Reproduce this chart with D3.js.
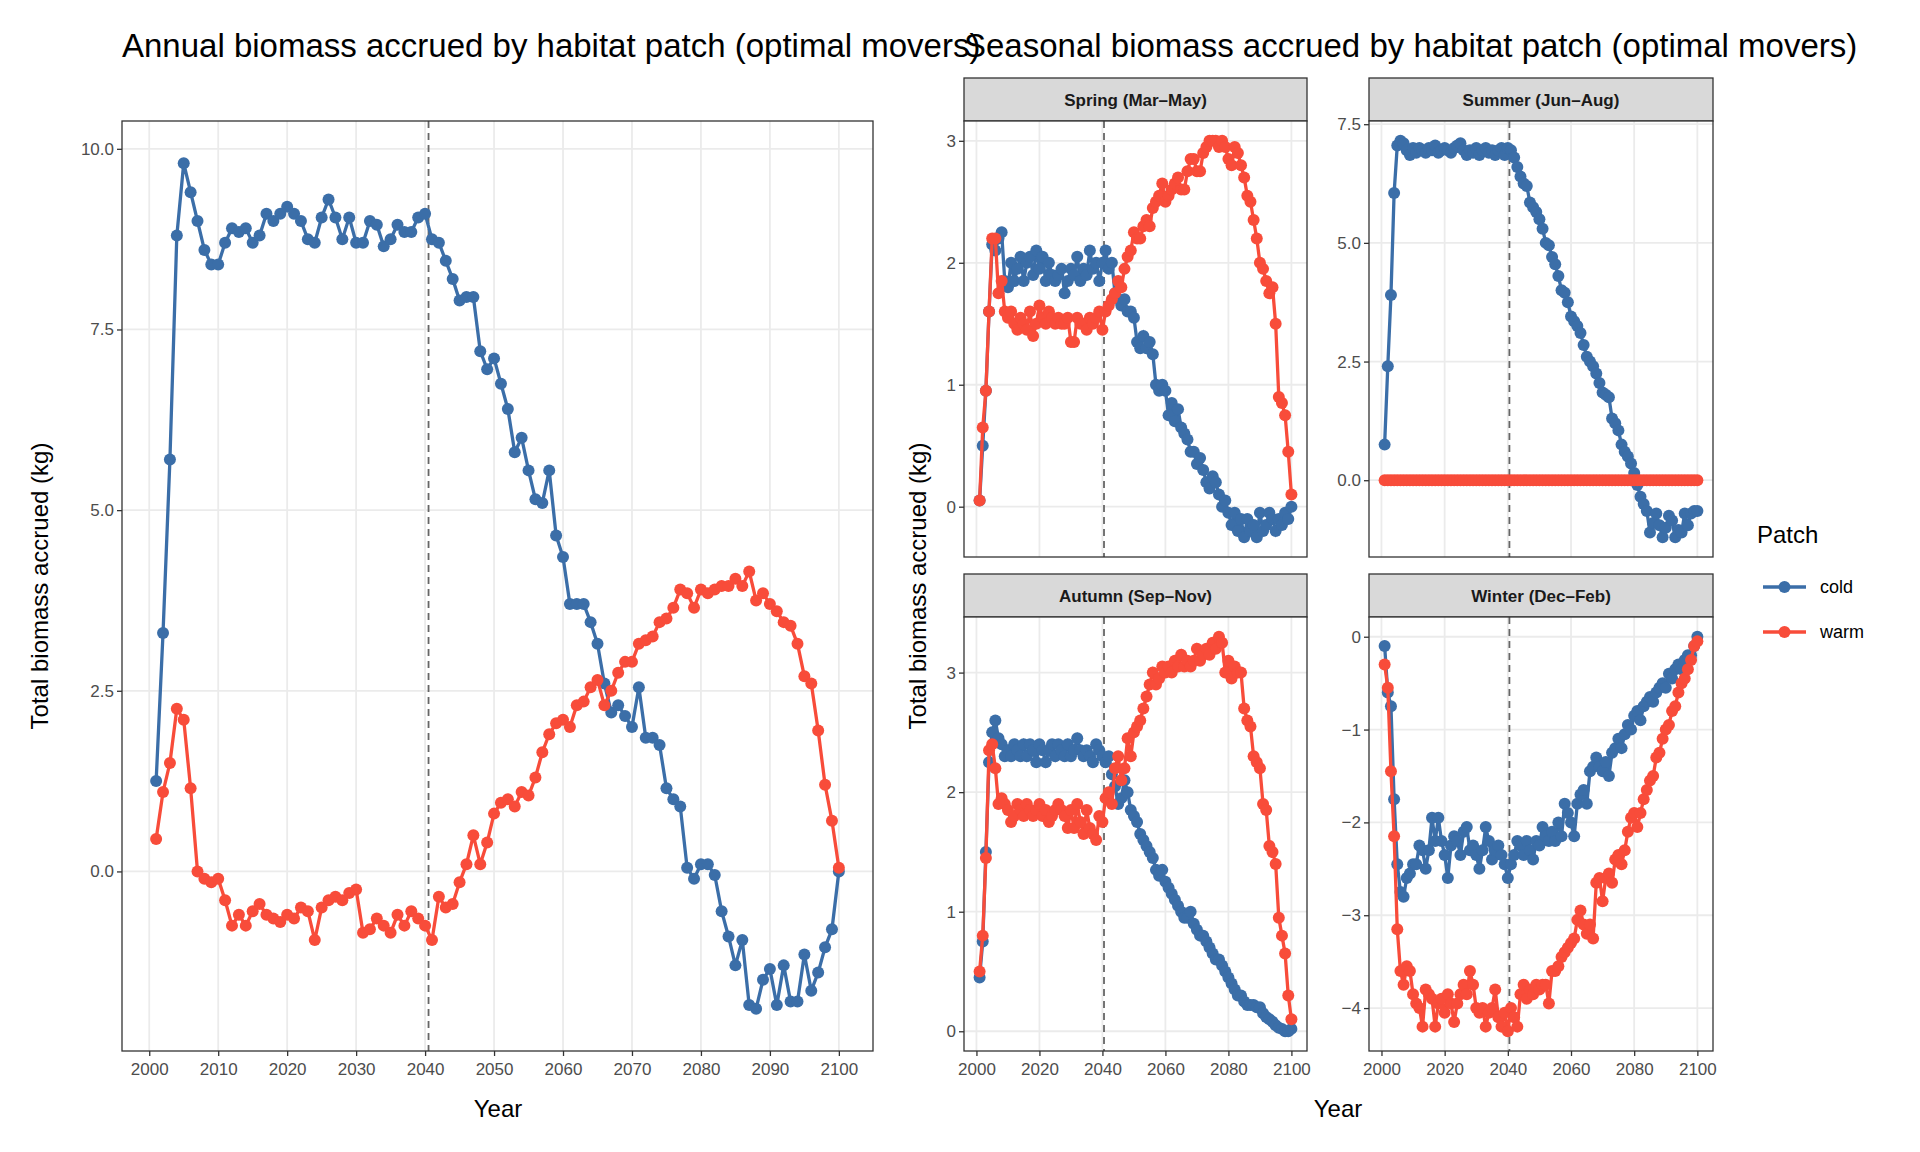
<!DOCTYPE html>
<html><head><meta charset="utf-8">
<script src="https://cdn.jsdelivr.net/npm/d3@7"></script>
<style>body{margin:0;background:#fff}text{font-family:"Liberation Sans",Arial,sans-serif}</style>
</head><body><svg id="c" width="1920" height="1152"></svg>
<script>
const years = d3.range(2001, 2101);
const annualCold = [1.25,3.3,5.7,8.8,9.8,9.4,9.0,8.6,8.4,8.4,8.7,8.9,8.85,8.9,8.7,8.8,9.1,9.0,9.1,9.2,9.1,9.0,8.75,8.7,9.05,9.3,9.05,8.75,9.05,8.7,8.7,9.0,8.95,8.65,8.75,8.95,8.85,8.85,9.05,9.1,8.75,8.7,8.45,8.2,7.9,7.95,7.95,7.2,6.95,7.1,6.75,6.4,5.8,6.0,5.55,5.15,5.1,5.55,4.65,4.35,3.7,3.7,3.7,3.45,3.15,2.6,2.2,2.3,2.15,2.0,2.55,1.85,1.85,1.75,1.15,1.0,0.9,0.05,-0.1,0.1,0.1,-0.05,-0.55,-0.9,-1.3,-0.95,-1.85,-1.9,-1.5,-1.35,-1.85,-1.3,-1.8,-1.8,-1.15,-1.65,-1.4,-1.05,-0.8,0.0];
const annualWarm = [0.45,1.1,1.5,2.25,2.1,1.15,0.0,-0.1,-0.15,-0.1,-0.4,-0.75,-0.6,-0.75,-0.55,-0.45,-0.6,-0.65,-0.7,-0.6,-0.65,-0.5,-0.55,-0.95,-0.5,-0.4,-0.35,-0.4,-0.3,-0.25,-0.85,-0.8,-0.65,-0.75,-0.85,-0.6,-0.75,-0.55,-0.65,-0.75,-0.95,-0.35,-0.5,-0.45,-0.15,0.1,0.5,0.1,0.4,0.8,0.95,1.0,0.9,1.1,1.05,1.3,1.65,1.9,2.05,2.1,2.0,2.3,2.35,2.55,2.65,2.3,2.5,2.75,2.9,2.9,3.15,3.2,3.25,3.45,3.5,3.65,3.9,3.85,3.65,3.9,3.85,3.9,3.95,3.95,4.05,3.95,4.15,3.75,3.85,3.7,3.6,3.45,3.4,3.15,2.7,2.6,1.95,1.2,0.7,0.05];
const springCold = [0.05,0.5,0.95,1.6,2.15,2.1,2.2,2.25,1.85,1.8,2.0,1.85,1.95,2.05,1.85,2.0,2.05,1.9,2.1,1.95,2.05,1.85,2.0,1.9,1.85,1.9,1.95,1.75,1.85,1.95,1.9,2.05,1.85,1.95,1.9,2.1,1.95,2.0,1.85,2.0,2.1,1.95,2.0,1.75,1.7,1.65,1.7,1.6,1.6,1.55,1.35,1.3,1.4,1.3,1.35,1.25,1.0,0.95,1.0,0.95,0.75,0.85,0.7,0.8,0.65,0.6,0.55,0.45,0.45,0.35,0.4,0.3,0.2,0.15,0.25,0.2,0.1,0.0,0.05,-0.05,-0.15,-0.05,-0.2,-0.1,-0.25,-0.1,-0.2,-0.15,-0.25,-0.05,-0.2,-0.15,-0.05,-0.1,-0.2,-0.1,-0.15,-0.05,-0.1,0.0];
const springWarm = [0.05,0.65,0.95,1.6,2.2,2.2,1.75,1.85,1.6,1.55,1.6,1.5,1.45,1.55,1.5,1.45,1.6,1.4,1.5,1.65,1.55,1.5,1.6,1.55,1.5,1.55,1.5,1.5,1.55,1.35,1.35,1.55,1.5,1.5,1.45,1.55,1.5,1.55,1.6,1.45,1.6,1.65,1.7,1.75,1.85,1.8,1.95,2.05,2.1,2.25,2.2,2.2,2.3,2.35,2.3,2.45,2.5,2.55,2.65,2.5,2.55,2.6,2.65,2.7,2.6,2.6,2.75,2.85,2.85,2.75,2.75,2.9,2.95,3.0,3.0,3.0,2.95,3.0,2.95,2.85,2.8,2.95,2.9,2.8,2.7,2.55,2.5,2.35,2.2,2.0,1.95,1.85,1.75,1.8,1.5,0.9,0.85,0.75,0.45,0.1];
const summerCold = [0.75,2.4,3.9,6.05,7.05,7.15,7.1,6.95,6.85,7.0,6.9,7.0,6.95,6.9,7.0,6.95,7.05,6.9,6.95,7.0,6.95,6.9,7.0,7.05,7.1,6.95,6.85,6.95,6.9,7.0,6.85,6.95,7.0,6.9,6.95,6.85,6.95,7.0,6.85,7.0,6.95,6.8,6.6,6.4,6.25,6.2,5.85,5.75,5.65,5.5,5.3,5.0,4.95,4.7,4.55,4.3,4.0,3.95,3.75,3.45,3.35,3.25,3.1,2.85,2.6,2.5,2.4,2.25,2.05,1.85,1.8,1.75,1.3,1.2,1.05,0.75,0.6,0.5,0.35,0.15,-0.1,-0.35,-0.5,-0.65,-1.1,-0.9,-0.7,-0.95,-1.2,-1.0,-0.75,-0.85,-1.2,-1.05,-1.1,-0.7,-0.95,-0.7,-0.65,-0.65];
const summerWarm = [0,0,0,0,0,0,0,0,0,0,0,0,0,0,0,0,0,0,0,0,0,0,0,0,0,0,0,0,0,0,0,0,0,0,0,0,0,0,0,0,0,0,0,0,0,0,0,0,0,0,0,0,0,0,0,0,0,0,0,0,0,0,0,0,0,0,0,0,0,0,0,0,0,0,0,0,0,0,0,0,0,0,0,0,0,0,0,0,0,0,0,0,0,0,0,0,0,0,0,0];
const autumnCold = [0.45,0.75,1.5,2.25,2.5,2.6,2.45,2.4,2.3,2.35,2.3,2.4,2.35,2.3,2.4,2.3,2.4,2.35,2.25,2.4,2.35,2.25,2.35,2.4,2.3,2.4,2.35,2.3,2.4,2.3,2.35,2.45,2.35,2.3,2.35,2.3,2.25,2.4,2.35,2.3,2.25,2.3,2.15,2.05,1.9,1.95,2.1,2.0,1.85,1.8,1.75,1.65,1.6,1.55,1.5,1.45,1.35,1.3,1.35,1.25,1.2,1.15,1.1,1.05,1.0,0.95,0.95,1.0,0.9,0.85,0.8,0.8,0.75,0.7,0.65,0.6,0.6,0.55,0.5,0.45,0.4,0.35,0.3,0.3,0.25,0.22,0.22,0.22,0.2,0.2,0.15,0.12,0.1,0.08,0.05,0.03,0.02,0.0,0.0,0.02];
const autumnWarm = [0.5,0.8,1.45,2.35,2.4,2.2,1.9,1.95,1.9,1.85,1.75,1.8,1.9,1.85,1.8,1.9,1.85,1.8,1.85,1.9,1.8,1.85,1.75,1.8,1.85,1.9,1.85,1.8,1.7,1.85,1.7,1.9,1.75,1.65,1.85,1.7,1.65,1.6,1.8,1.75,1.95,2.0,1.9,2.2,2.3,2.1,2.2,2.45,2.3,2.5,2.55,2.6,2.7,2.8,2.9,3.0,2.9,2.95,3.05,3.0,3.05,3.0,3.1,3.05,3.15,3.05,3.1,3.05,3.1,3.2,3.1,3.15,3.2,3.15,3.25,3.2,3.3,3.25,3.0,3.1,2.95,3.05,3.0,3.0,2.7,2.6,2.55,2.3,2.25,2.2,1.9,1.85,1.55,1.5,1.4,0.95,0.8,0.65,0.3,0.1];
const winterCold = [-0.1,-0.6,-0.75,-1.75,-2.45,-2.75,-2.8,-2.6,-2.55,-2.45,-2.45,-2.25,-2.3,-2.5,-2.3,-1.95,-2.2,-1.95,-2.2,-2.35,-2.6,-2.25,-2.15,-2.2,-2.35,-2.1,-2.05,-2.3,-2.25,-2.35,-2.5,-2.3,-2.05,-2.2,-2.4,-2.3,-2.25,-2.35,-2.45,-2.6,-2.45,-2.35,-2.2,-2.25,-2.35,-2.2,-2.3,-2.4,-2.2,-2.25,-2.05,-2.15,-2.2,-2.1,-2.2,-2.0,-2.15,-1.8,-1.9,-2.0,-2.15,-1.8,-1.7,-1.65,-1.8,-1.45,-1.4,-1.3,-1.4,-1.45,-1.35,-1.5,-1.25,-1.2,-1.1,-1.2,-1.05,-0.95,-1.0,-0.85,-0.8,-0.9,-0.75,-0.7,-0.65,-0.7,-0.6,-0.55,-0.5,-0.55,-0.4,-0.45,-0.35,-0.3,-0.35,-0.25,-0.2,-0.2,-0.1,0.0];
const winterWarm = [-0.3,-0.55,-1.45,-2.15,-3.15,-3.6,-3.75,-3.55,-3.6,-3.85,-3.95,-4.0,-4.2,-3.8,-3.85,-3.9,-4.2,-3.95,-3.9,-4.05,-3.85,-3.95,-4.15,-3.95,-3.85,-3.75,-3.85,-3.6,-3.75,-4.0,-4.05,-4.0,-4.2,-4.05,-4.0,-3.8,-4.1,-4.2,-4.05,-4.25,-4.0,-4.1,-4.2,-3.85,-3.75,-3.9,-3.8,-3.85,-3.75,-3.8,-3.75,-3.75,-3.95,-3.6,-3.6,-3.55,-3.45,-3.4,-3.35,-3.3,-3.25,-3.05,-2.95,-3.1,-3.2,-3.1,-3.25,-2.65,-2.6,-2.85,-2.6,-2.55,-2.65,-2.4,-2.35,-2.45,-2.3,-2.1,-1.95,-1.9,-2.05,-1.9,-1.75,-1.65,-1.55,-1.5,-1.3,-1.25,-1.1,-1.0,-0.95,-0.8,-0.75,-0.6,-0.5,-0.45,-0.35,-0.25,-0.1,-0.05];
const breakYear = 2040.5;
const annualYTicks = [0, 2.5, 5, 7.5, 10];
const annualXTicks = d3.range(2000, 2101, 10);
const seasonXTicks = d3.range(2000, 2101, 20);
const seasons = [
  {name:"Spring (Mar\u2013May)", cold:springCold, warm:springWarm, ticks:[0,1,2,3], fmt:d3.format("d")},
  {name:"Summer (Jun\u2013Aug)", cold:summerCold, warm:summerWarm, ticks:[0,2.5,5,7.5], fmt:d3.format(".1f")},
  {name:"Autumn (Sep\u2013Nov)", cold:autumnCold, warm:autumnWarm, ticks:[0,1,2,3], fmt:d3.format("d")},
  {name:"Winter (Dec\u2013Feb)", cold:winterCold, warm:winterWarm, ticks:[-4,-3,-2,-1,0], fmt:d3.format("d")}
];
const patches = ["cold","warm"];
const colors = {cold:"#3B6EA8", warm:"#F84C3A"};

const svg = d3.select("#c");
function expand(ext){const r=ext[1]-ext[0];return [ext[0]-0.05*r, ext[1]+0.05*r];}

function panel(x0,x1,y0,y1,series,xticks,yticks,yfmt,fs,showX){
  const x = d3.scaleLinear().domain(expand(d3.extent(years))).range([x0,x1]);
  const all = series.cold.concat(series.warm);
  const y = d3.scaleLinear().domain(expand(d3.extent(all))).range([y1,y0]);
  const g = svg.append("g");
  g.append("rect").attr("x",x0).attr("y",y0).attr("width",x1-x0).attr("height",y1-y0).attr("fill","#fff");
  g.selectAll(".gx").data(xticks).join("line").attr("x1",d=>x(d)).attr("x2",d=>x(d)).attr("y1",y0).attr("y2",y1).attr("stroke","#ebebeb").attr("stroke-width",1.8);
  g.selectAll(".gy").data(yticks).join("line").attr("y1",d=>y(d)).attr("y2",d=>y(d)).attr("x1",x0).attr("x2",x1).attr("stroke","#ebebeb").attr("stroke-width",1.8);
  g.append("line").attr("x1",x(breakYear)).attr("x2",x(breakYear)).attr("y1",y0).attr("y2",y1).attr("stroke","#666").attr("stroke-width",1.8).attr("stroke-dasharray","7,5");
  patches.forEach(p=>{
    const pts = years.map((yr,i)=>[yr,series[p][i]]);
    g.append("path").datum(pts).attr("fill","none").attr("stroke",colors[p]).attr("stroke-width",3.3)
      .attr("d",d3.line().x(d=>x(d[0])).y(d=>y(d[1])));
    g.selectAll(null).data(pts).join("circle").attr("cx",d=>x(d[0])).attr("cy",d=>y(d[1])).attr("r",6).attr("fill",colors[p]);
  });
  g.append("rect").attr("x",x0).attr("y",y0).attr("width",x1-x0).attr("height",y1-y0).attr("fill","none").attr("stroke","#333").attr("stroke-width",1.3);
  if(showX){
    const ax = g.append("g").attr("transform",`translate(0,${y1})`).call(d3.axisBottom(x).tickValues(xticks).tickFormat(d3.format("d")).tickSize(5).tickSizeOuter(0));
    styleAxis(ax,fs); ax.selectAll("text").attr("dy","0.95em");
  }
  const ay = g.append("g").attr("transform",`translate(${x0},0)`).call(d3.axisLeft(y).tickValues(yticks).tickFormat(yfmt).tickSize(5).tickSizeOuter(0));
  styleAxis(ay,fs);
  return g;
}
function styleAxis(a,fs){a.select(".domain").remove();a.selectAll("line").attr("stroke","#333").attr("stroke-width",1.3);
  a.selectAll("text").attr("fill","#4d4d4d").style("font-size",fs+"px").style("font-family","Liberation Sans, Arial");}

// Annual
panel(122,873,121,1051,{cold:annualCold,warm:annualWarm},annualXTicks,annualYTicks,d3.format(".1f"),17,true);
// Seasonal
const cols=[[964,1307],[1369,1713]], rows=[[78,121,557],[574,617,1051]];
seasons.forEach((s,i)=>{
  const c=cols[i%2], r=rows[Math.floor(i/2)];
  svg.append("rect").attr("x",c[0]).attr("y",r[0]).attr("width",c[1]-c[0]).attr("height",r[1]-r[0]).attr("fill","#d9d9d9").attr("stroke","#333").attr("stroke-width",1.3);
  svg.append("text").attr("x",(c[0]+c[1])/2).attr("y",(r[0]+r[1])/2+6).attr("text-anchor","middle").attr("font-size",17).attr("font-weight","bold").attr("fill","#1a1a1a").text(s.name);
  panel(c[0],c[1],r[1],r[2],{cold:s.cold,warm:s.warm},seasonXTicks,s.ticks,s.fmt,17,i>=2);
});

svg.append("text").attr("x",122).attr("y",57).attr("font-size",33).text("Annual biomass accrued by habitat patch (optimal movers)");
svg.append("text").attr("transform","translate(48,586) rotate(-90)").attr("text-anchor","middle").attr("font-size",24).text("Total biomass accrued (kg)");
svg.append("text").attr("x",498).attr("y",1117).attr("text-anchor","middle").attr("font-size",24).text("Year");
svg.append("text").attr("x",964).attr("y",57).attr("font-size",33).text("Seasonal biomass accrued by habitat patch (optimal movers)");
svg.append("text").attr("transform","translate(926,586) rotate(-90)").attr("text-anchor","middle").attr("font-size",24).text("Total biomass accrued (kg)");
svg.append("text").attr("x",1338).attr("y",1117).attr("text-anchor","middle").attr("font-size",24).text("Year");

// Legend
svg.append("text").attr("x",1757).attr("y",543).attr("font-size",24).text("Patch");
patches.forEach((p,i)=>{
  const yy = 587 + i*45;
  svg.append("line").attr("x1",1763).attr("x2",1806).attr("y1",yy).attr("y2",yy).attr("stroke",colors[p]).attr("stroke-width",3.3);
  svg.append("circle").attr("cx",1784.5).attr("cy",yy).attr("r",6).attr("fill",colors[p]);
  svg.append("text").attr("x",1820).attr("y",yy+6).attr("font-size",18).text(p);
});
</script></body></html>
